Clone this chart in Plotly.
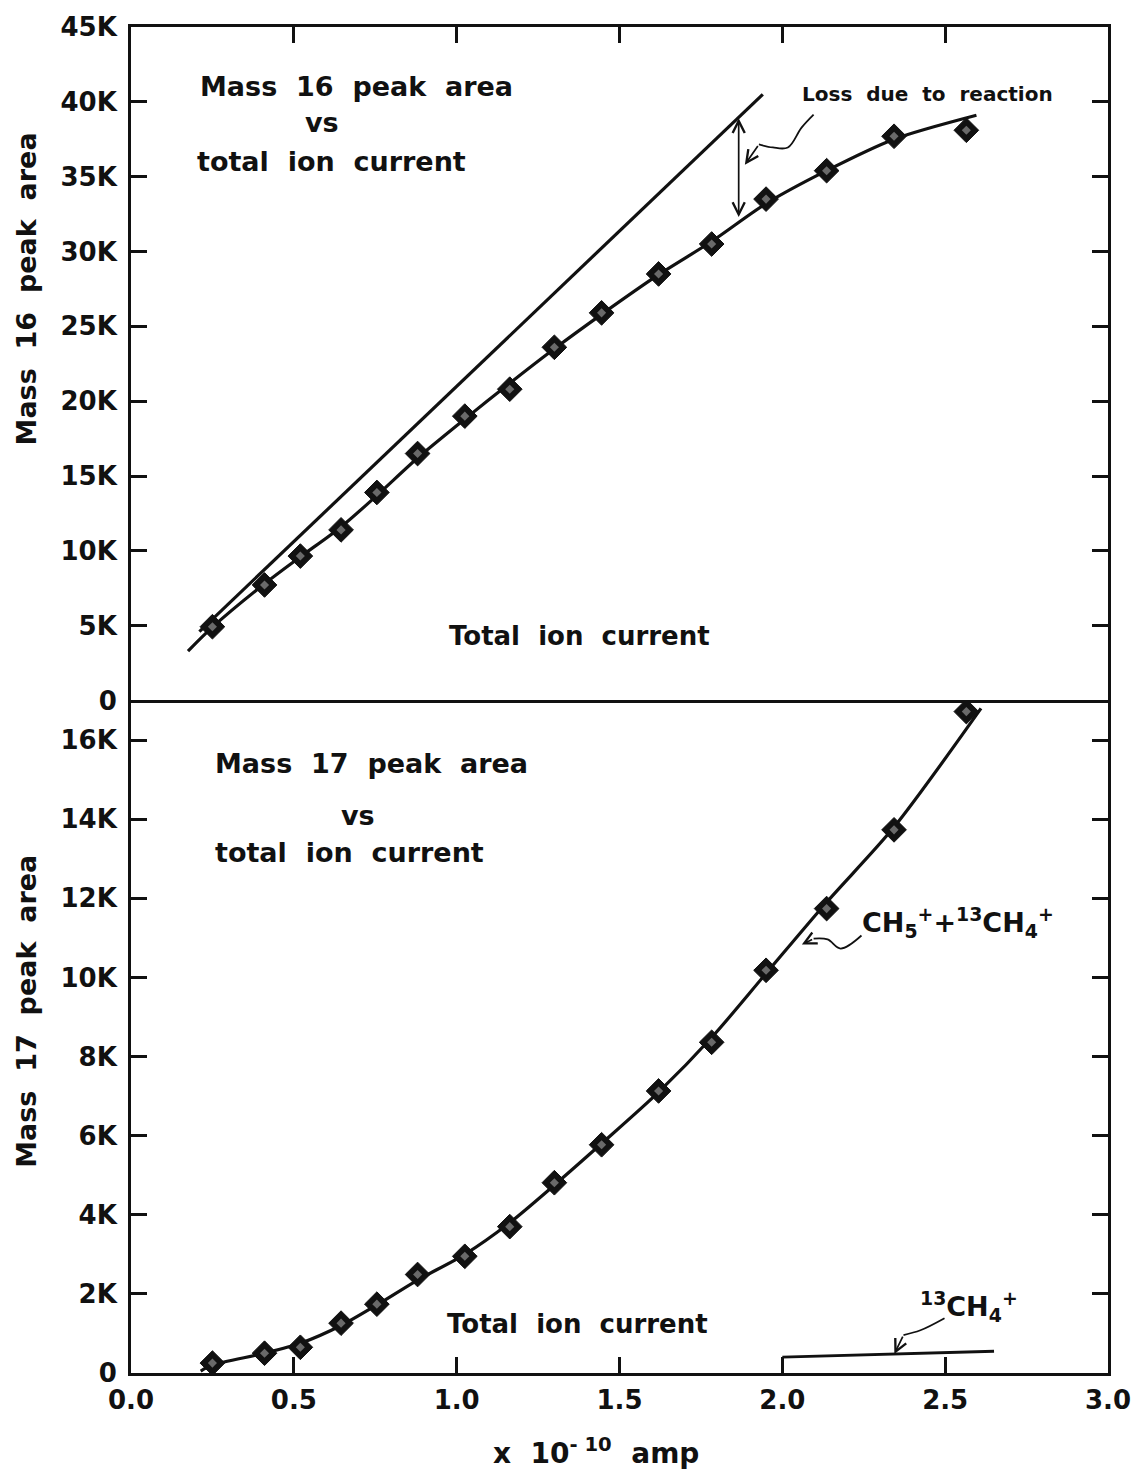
import plotly.graph_objects as go

# Total ion current (x 10^-10 amp) at each measurement
current = [0.25, 0.41, 0.52, 0.645, 0.755, 0.88, 1.025, 1.163, 1.30, 1.445,
           1.62, 1.783, 1.95, 2.136, 2.343, 2.565]

# Mass 16 peak area at each current
mass16 = [4930, 7720, 9650, 11400, 13900, 16500, 19000, 20800, 23600, 25900,
          28500, 30500, 33500, 35400, 37700, 38100]

# Mass 17 peak area at each current
mass17 = [250, 500, 650, 1260, 1740, 2490, 2950, 3700, 4810, 5770,
          7130, 8360, 10180, 11740, 13730, 16720]

# Smooth curve drawn through the mass 16 points
fit16_x = [0.175, 0.25, 0.41, 0.52, 0.645, 0.755, 0.88, 1.025, 1.163, 1.30,
           1.445, 1.62, 1.785, 1.95, 2.136, 2.343, 2.596]
fit16_y = [3300, 4900, 7800, 9600, 11600, 13700, 16200, 18800, 21200, 23500,
           25800, 28450, 30700, 33200, 35400, 37500, 39100]

# Straight line: mass 16 without loss to reaction
ideal16_x = [0.21, 1.94]
ideal16_y = [4600, 40500]

# Smooth curve drawn through the mass 17 points (CH5+ + 13CH4+)
fit17_x = [0.214, 0.25, 0.41, 0.52, 0.645, 0.755, 0.88, 1.025, 1.163, 1.30,
           1.445, 1.62, 1.785, 1.95, 2.136, 2.343, 2.61]
fit17_y = [50, 200, 500, 750, 1200, 1720, 2350, 3000, 3800, 4750,
           5800, 7100, 8500, 10100, 11900, 13800, 16800]

# 13CH4+ contribution
c13_x = [2.0, 2.65]
c13_y = [400, 550]

x_ticks = [0.0, 0.5, 1.0, 1.5, 2.0, 2.5, 3.0]
x_ticktext = ["0.0", "0.5", "1.0", "1.5", "2.0", "2.5", "3.0"]
y16_ticks = [0, 5000, 10000, 15000, 20000, 25000, 30000, 35000, 40000, 45000]
y16_ticktext = ["0", "5K", "10K", "15K", "20K", "25K", "30K", "35K", "40K", "45K"]
y17_ticks = [0, 2000, 4000, 6000, 8000, 10000, 12000, 14000, 16000]
y17_ticktext = ["0", "2K", "4K", "6K", "8K", "10K", "12K", "14K", "16K"]

FONT = "DejaVu Sans"
WEIGHT = 600
INK = "#111111"
split = (1373 - 698) / (1373 - 22)

fig = go.Figure()

# --- upper panel: mass 16 ---
fig.add_trace(go.Scatter(x=ideal16_x, y=ideal16_y, mode="lines",
                         line=dict(color=INK, width=3.2), xaxis="x2", yaxis="y2"))
fig.add_trace(go.Scatter(x=fit16_x, y=fit16_y, mode="lines",
                         line=dict(color=INK, width=3.2, shape="spline", smoothing=0.8),
                         xaxis="x2", yaxis="y2"))
fig.add_trace(go.Scatter(x=current, y=mass16, mode="markers",
                         marker=dict(symbol="diamond", size=19, color=INK,
                                     line=dict(color=INK, width=1)),
                         xaxis="x2", yaxis="y2"))
fig.add_trace(go.Scatter(x=current, y=mass16, mode="markers",
                         marker=dict(symbol="diamond", size=7, color="#6a6a6a"),
                         xaxis="x2", yaxis="y2"))

# wavy leader for the "Loss due to reaction" label
loss_wave_x = [2.096, 2.059, 2.017, 1.971, 1.928]
loss_wave_y = [39150, 38280, 36950, 36950, 37150]
fig.add_trace(go.Scatter(x=loss_wave_x, y=loss_wave_y, mode="lines",
                         line=dict(color=INK, width=1.8, shape="spline"),
                         xaxis="x2", yaxis="y2"))

# --- lower panel: mass 17 ---
fig.add_trace(go.Scatter(x=fit17_x, y=fit17_y, mode="lines",
                         line=dict(color=INK, width=3.2, shape="spline", smoothing=0.8),
                         xaxis="x", yaxis="y"))
fig.add_trace(go.Scatter(x=current, y=mass17, mode="markers",
                         marker=dict(symbol="diamond", size=19, color=INK,
                                     line=dict(color=INK, width=1)),
                         xaxis="x", yaxis="y"))
fig.add_trace(go.Scatter(x=current, y=mass17, mode="markers",
                         marker=dict(symbol="diamond", size=7, color="#6a6a6a"),
                         xaxis="x", yaxis="y"))
fig.add_trace(go.Scatter(x=c13_x, y=c13_y, mode="lines",
                         line=dict(color=INK, width=2.8), xaxis="x", yaxis="y"))

ch5_wave_x = [2.243, 2.179, 2.139, 2.096]
ch5_wave_y = [11060, 10730, 10960, 10980]
fig.add_trace(go.Scatter(x=ch5_wave_x, y=ch5_wave_y, mode="lines",
                         line=dict(color=INK, width=1.8, shape="spline"),
                         xaxis="x", yaxis="y"))
c13_wave_x = [2.498, 2.424, 2.372]
c13_wave_y = [1385, 1080, 960]
fig.add_trace(go.Scatter(x=c13_wave_x, y=c13_wave_y, mode="lines",
                         line=dict(color=INK, width=1.8, shape="spline"),
                         xaxis="x", yaxis="y"))

annotations = []


def text(x, y, s, size, xref, yref, xanchor="left", yanchor="middle", angle=0):
    annotations.append(dict(x=x, y=y, text=s, xref=xref, yref=yref, showarrow=False,
                            xanchor=xanchor, yanchor=yanchor, textangle=angle,
                            font=dict(family=FONT, size=size, color=INK, weight=WEIGHT)))


def arrow(x0, y0, x1, y1, xref, yref, side="end", head=4):
    annotations.append(dict(x=x1, y=y1, ax=x0, ay=y0, xref=xref, yref=yref,
                            axref=xref, ayref=yref, showarrow=True, text="",
                            arrowhead=head, arrowside=side, arrowsize=1.4,
                            arrowwidth=1.7, arrowcolor=INK, standoff=0,
                            startstandoff=0))


# upper panel labels
text(0.205, 41000, "Mass  16  peak  area", 27, "x2", "y2")
text(0.588, 38600, "vs", 27, "x2", "y2", xanchor="center")
text(0.196, 36000, "total  ion  current", 27, "x2", "y2")
text(1.376, 4330, "Total  ion  current", 26, "x2", "y2", xanchor="center")
text(2.446, 40500, "Loss  due  to  reaction", 20, "x2", "y2", xanchor="center")
arrow(1.866, 32200, 1.866, 38900, "x2", "y2", side="end+start", head=5)
arrow(1.928, 37150, 1.885, 35800, "x2", "y2", head=5)

# lower panel labels
text(0.251, 15400, "Mass  17  peak  area", 27, "x", "y")
text(0.696, 14100, "vs", 27, "x", "y", xanchor="center")
text(0.251, 13170, "total  ion  current", 27, "x", "y")
text(1.37, 1230, "Total  ion  current", 26, "x", "y", xanchor="center")
text(2.24, 11400, "CH<sub>5</sub><sup>+</sup>+<sup>13</sup>CH<sub>4</sub><sup>+</sup>",
     27, "x", "y")
text(2.418, 1680, "<sup>13</sup>CH<sub>4</sub><sup>+</sup>", 27, "x", "y")
arrow(2.096, 10980, 2.06, 10830, "x", "y", head=5)
arrow(2.372, 960, 2.344, 480, "x", "y", head=5)

# axis titles
text(-0.107, (1373 - 285) / 1351, "Mass  16  peak  area", 27, "paper", "paper",
     xanchor="center", yanchor="middle", angle=-90)
text(-0.107, (1373 - 1010) / 1351, "Mass  17  peak  area", 27, "paper", "paper",
     xanchor="center", yanchor="middle", angle=-90)
text((597 - 131) / 979, -0.058, "x  10<sup>- 10</sup>  amp", 28, "paper", "paper",
     xanchor="center", yanchor="middle")

axis_common = dict(showline=True, linecolor=INK, linewidth=3, ticks="inside",
                   tickcolor=INK, tickwidth=3, ticklen=16, showgrid=False,
                   zeroline=False,
                   tickfont=dict(family=FONT, size=26, color=INK, weight=WEIGHT))

fig.update_layout(
    width=1143, height=1474,
    margin=dict(l=131, r=33, t=22, b=101),
    paper_bgcolor="white", plot_bgcolor="white",
    showlegend=False,
    annotations=annotations,
    xaxis=dict(axis_common, domain=[0, 1], range=[0, 3], anchor="y",
               tickvals=x_ticks, ticktext=x_ticktext, mirror=False,
               ticklabelstandoff=2),
    xaxis2=dict(axis_common, domain=[0, 1], range=[0, 3], anchor="y2",
                matches="x", side="top", tickvals=x_ticks, showticklabels=False,
                mirror=True),
    yaxis=dict(axis_common, domain=[0, split], range=[0, 17000], anchor="x",
               tickvals=y17_ticks, ticktext=y17_ticktext, mirror="ticks",
               ticklabelstandoff=6),
    yaxis2=dict(axis_common, domain=[split, 1], range=[0, 45000], anchor="x2",
                tickvals=y16_ticks, ticktext=y16_ticktext, mirror="ticks",
                ticklabelstandoff=6),
)

fig.write_html("out.html")
